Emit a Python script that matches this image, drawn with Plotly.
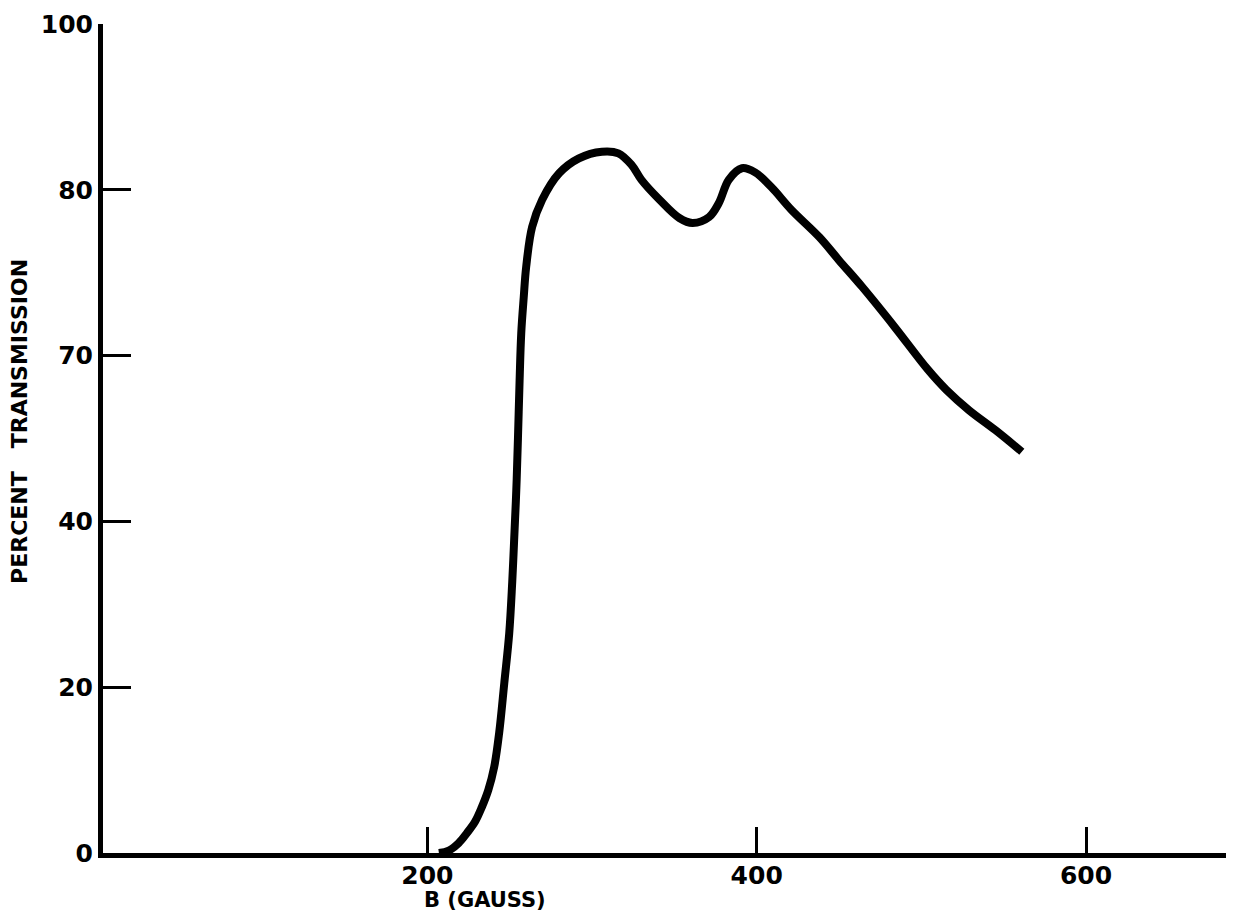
#import libraries
import plotly.graph_objects as go

# field (gauss) and percent transmission
b_gauss = [207, 213, 219, 224, 229, 233, 237, 240.6, 243.6, 246.7, 249.7, 251.5, 252.7,
           254, 255, 256, 257, 258.5, 260, 263.6, 269.7, 280, 292, 306, 316, 324, 330,
           341, 353, 361, 371, 377, 383, 391, 399, 409, 421, 438, 450, 464, 484, 504,
           515, 529, 545, 561]
transmission = [0, 0.3, 1.2, 2.4, 3.8, 5.5, 7.6, 10.4, 14.5, 20.5, 26.5, 32.6, 37.8,
                43.8, 50, 57, 62.7, 67, 70.7, 75.5, 78.8, 82.0, 83.8, 84.6, 84.4, 83.0, 81.2,
                78.8, 76.6, 76.0, 76.7, 78.4, 81.2, 82.6, 82.1, 80.3, 77.6, 74.3, 71.5, 68.3,
                63.4, 58.3, 55.9, 53.4, 51.0, 48.4]

# tick labels as printed on the original
y_tickvals = [0, 20, 40, 60, 80, 100]
y_ticktext = ["0", "20", "40", "70", "80", "100"]
x_tickvals = [200, 400, 600]
x_ticktext = ["200", "400", "600"]

fig = go.Figure()
fig.add_trace(go.Scatter(
    x=b_gauss, y=transmission, mode="lines",
    line=dict(color="black", width=8, shape="spline", smoothing=1.0),
    showlegend=False,
))

tick_font = dict(family="DejaVu Sans", size=25, color="black", weight="bold")

fig.update_xaxes(
    range=[3, 685], showgrid=False, zeroline=False,
    showline=True, linecolor="black", linewidth=5,
    ticks="inside", ticklen=26, tickwidth=3, tickcolor="black",
    tickvals=x_tickvals, ticktext=x_ticktext, tickfont=tick_font,
    ticklabelstandoff=-4,
)
fig.update_yaxes(
    range=[0, 100], showgrid=False, zeroline=False,
    showline=True, linecolor="black", linewidth=5,
    ticks="inside", ticklen=28, tickwidth=3, tickcolor="black",
    tickvals=y_tickvals, ticktext=y_ticktext, tickfont=tick_font,
)

#axis titles placed like the original drawing
fig.add_annotation(
    text="PERCENT&nbsp;&nbsp;&nbsp;TRANSMISSION", textangle=-90,
    xref="paper", yref="paper", x=-0.0739, y=0.52, showarrow=False,
    xanchor="center", yanchor="middle",
    font=dict(family="DejaVu Sans", size=22, color="black", weight="bold"),
)
fig.add_annotation(
    text="B (GAUSS)", xref="x", yref="paper", x=235, y=-0.057, showarrow=False,
    xanchor="center", yanchor="middle",
    font=dict(family="DejaVu Sans", size=21, color="black", weight="bold"),
)

# page body adds 8px around the figure
fig.update_layout(
    width=1218, height=904,
    margin=dict(l=95, r=0, t=16, b=59),
    plot_bgcolor="white", paper_bgcolor="white",
)

fig.write_html("out.html")
